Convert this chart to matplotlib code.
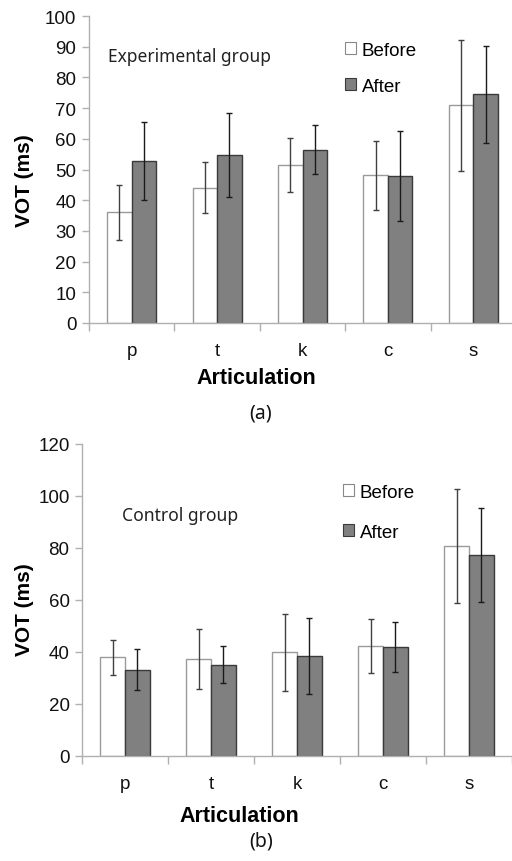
import matplotlib
matplotlib.use("Agg")
import matplotlib.pyplot as plt
import numpy as np
from matplotlib.patches import Patch

categories = ["p", "t", "k", "c", "s"]

exp_before = [36.0, 44.1, 51.4, 48.1, 70.9]
exp_before_err = [9.0, 8.3, 8.7, 11.2, 21.3]
exp_after = [52.9, 54.7, 56.4, 47.8, 74.5]
exp_after_err = [12.7, 13.7, 8.0, 14.7, 15.8]

ctl_before = [37.9, 37.3, 39.9, 42.3, 80.7]
ctl_before_err = [6.7, 11.7, 14.8, 10.4, 21.9]
ctl_after = [33.2, 35.1, 38.4, 41.9, 77.3]
ctl_after_err = [7.9, 7.2, 14.7, 9.6, 18.0]

W, H = 512, 862
fig = plt.figure(figsize=(W / 100, H / 100), dpi=100)

SANS = ["Liberation Sans", "DejaVu Sans"]
KFONT = ["Noto Sans", "DejaVu Sans"]

AXC = "#b0b0b0"
BEFORE_EDGE = "#9a9a9a"
AFTER_FACE = "#808080"
AFTER_EDGE = "#3a3a3a"


def panel(rect, before, berr, after, aerr, ymax, ystep, note, note_xy, note_size,
          leg_xy, leg_spacing, tag, tag_y, ylab_xy, xlab_xy):
    ax = fig.add_axes(rect)
    x = np.arange(len(categories))
    bw = 0.288
    ax.bar(x - bw / 2, before, bw, color="white", edgecolor=BEFORE_EDGE, linewidth=1.0, zorder=2)
    ax.bar(x + bw / 2, after, bw, color=AFTER_FACE, edgecolor=AFTER_EDGE, linewidth=1.0, zorder=2)
    ax.errorbar(x - bw / 2, before, yerr=berr, fmt="none", ecolor="#404040",
                elinewidth=1.0, capsize=2.2, capthick=1.0, zorder=3)
    ax.errorbar(x + bw / 2, after, yerr=aerr, fmt="none", ecolor="#1a1a1a",
                elinewidth=1.0, capsize=2.2, capthick=1.0, zorder=3)
    ax.set_xlim(-0.5, len(categories) - 0.5)
    ax.set_ylim(0, ymax)
    ax.set_yticks(np.arange(0, ymax + 0.1, ystep))
    ax.set_xticks(x)
    ax.set_xticklabels(categories)
    ax.set_xticks(np.arange(-0.5, len(categories) + 0.5, 1.0), minor=True)
    ax.tick_params(axis="x", which="major", length=0, pad=14, labelsize=13.5)
    ax.tick_params(axis="x", which="minor", length=6, color=AXC, width=1.0)
    ax.tick_params(axis="y", length=5, color=AXC, width=1.0, labelsize=13.5, pad=4)
    for lab in ax.get_xticklabels() + ax.get_yticklabels():
        lab.set_family(SANS)
        lab.set_color("#111111")
    for s in ["top", "right"]:
        ax.spines[s].set_visible(False)
    for s in ["left", "bottom"]:
        ax.spines[s].set_color(AXC)
        ax.spines[s].set_linewidth(1.0)
    fig.text(xlab_xy[0] / W, 1 - xlab_xy[1] / H, "Articulation", fontsize=15.5,
             fontweight="bold", family=SANS, ha="center", va="center")
    fig.text(ylab_xy[0] / W, 1 - ylab_xy[1] / H, "VOT (ms)", fontsize=15,
             fontweight="bold", family=SANS, ha="center", va="center", rotation=90)
    fig.text(note_xy[0] / W, 1 - note_xy[1] / H, note, family=KFONT, fontsize=note_size,
             color="#222222", ha="left", va="center")
    handles = [Patch(facecolor="white", edgecolor="#888888", linewidth=0.8),
               Patch(facecolor=AFTER_FACE, edgecolor=AFTER_EDGE, linewidth=0.8)]
    fig.legend(handles, ["Before", "After"], loc="upper left",
               bbox_to_anchor=(leg_xy[0] / W, 1 - leg_xy[1] / H),
               frameon=False, handlelength=0.6, handleheight=0.6, handletextpad=0.3,
               labelspacing=leg_spacing, borderpad=0, borderaxespad=0,
               prop={"family": SANS, "size": 13.5})
    fig.text(tag_x / W, 1 - tag_y / H, tag, family=KFONT, fontsize=14, ha="center", va="center",
             color="#111111")
    return ax


tag_x = 261

# top panel
panel([89 / W, 1 - 324 / H, 427 / W, 307 / H], exp_before, exp_before_err, exp_after, exp_after_err,
      100, 10, "Experimental group", (108, 57), 12.5, (345, 43), 1.0, "(a)", 414,
      (25, 181), (256, 379))

# bottom panel
panel([82 / W, 1 - 757 / H, 430 / W, 312 / H], ctl_before, ctl_before_err, ctl_after, ctl_after_err,
      120, 20, "Control group", (122, 516), 12.6, (343, 485), 1.2, "(b)", 842,
      (25, 610), (239, 817))

fig.savefig("out.png", dpi=100)
